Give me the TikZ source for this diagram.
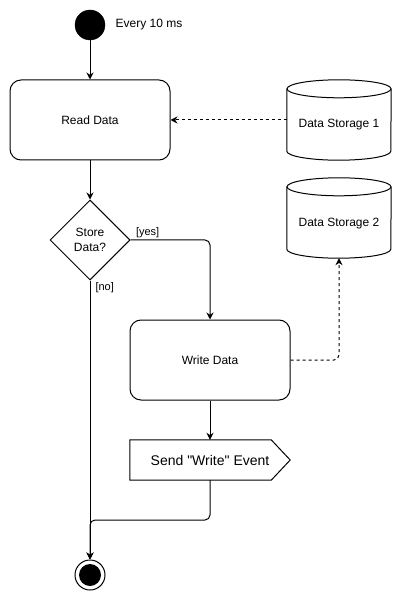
\documentclass[tikz,border=0pt]{standalone}
\usepackage{fontspec}
\setmainfont{Liberation Sans}
\usetikzlibrary{shapes.geometric,arrows.meta,positioning}

\tikzset{
    flowline/.style={line width=1pt, black},
    flowarrow/.style={flowline, -{Stealth[length=7pt,width=7pt]}},
    storeline/.style={flowarrow, dashed},
    plaintext/.style={font=\fontsize{12}{14}\selectfont},
    edgelabel/.style={font=\fontsize{11}{13}\selectfont, inner sep=2pt},
    startdot/.style={circle, draw, fill=black, minimum size=30, inner sep=0},
    enddot/.style={circle, draw, flowline, minimum size=30, inner sep=0,
        path picture={\fill (path picture bounding box.center) circle (11pt);}},
    actionbox/.style={draw, flowline, rounded corners=11pt, minimum width=160,
        minimum height=80, inner sep=0, plaintext},
    decisionbox/.style={draw, flowline, diamond, aspect=1, minimum width=80,
        minimum height=80, inner sep=0, align=center,
        font=\fontsize{12}{15}\selectfont},
    eventbox/.style={minimum width=160, minimum height=40, inner sep=0,
        font=\fontsize{14}{16}\selectfont},
    storebox/.style={minimum width=104, minimum height=80, inner sep=0,
        text height=16pt, text depth=0pt, plaintext}
}

\newcommand{\dataStore}[4]
{
    \node[storebox] (#1) at (#2,#3) {#4};
    \draw[flowline] ([yshift=-9pt]#1.north) ellipse [x radius=52pt, y radius=9pt];
    \draw[flowline] ([yshift=-9pt]#1.north west) -- ([yshift=9pt]#1.south west)
        arc [start angle=180, end angle=360, x radius=52pt, y radius=9pt]
        -- ([yshift=-9pt]#1.north east);
}

\begin{document}
\begin{tikzpicture}[x=1pt, y=-1pt]
    \useasboundingbox (0,0) rectangle (403,601);

    %draws start and end states
    \node[startdot] (start) at (90,25) {};
    \node[plaintext, right=7pt of start] (every) {Every 10 ms};
    \node[enddot] (finish) at (90,575) {};

    %draws actions
    \node[actionbox] (readdata) at (90,120) {Read Data};
    \node[decisionbox] (decide) at (90,240) {Store\\Data?};
    \node[actionbox] (writedata) at (210,360) {Write Data};
    \node[eventbox] (sendevent) at (210,460)
        {Send \textquotedbl Write\textquotedbl\ Event};
    \draw[flowline] (sendevent.north west) -- ([xshift=-19pt]sendevent.north east)
        -- (sendevent.east) -- ([xshift=-19pt]sendevent.south east)
        -- (sendevent.south west) -- cycle;

    %draws storages
    \dataStore{storeone}{339}{120}{Data Storage 1}
    \dataStore{storetwo}{339}{218}{Data Storage 2}

    %draws flow
    \draw[flowarrow] (start) -- (readdata);
    \draw[storeline] (storeone.west) -- (readdata.east);
    \draw[flowarrow] (readdata) -- (decide);
    \draw[flowarrow, rounded corners=5pt] (decide.east)
        node[edgelabel, anchor=south west, xshift=3pt] {[yes]} -| (writedata.north);
    \draw[flowarrow] (decide.south)
        node[edgelabel, anchor=north west, xshift=3pt] {[no]} -- (finish.north);
    \draw[storeline, rounded corners=5pt] (writedata.east) -| (storetwo.south);
    \draw[flowarrow] (writedata) -- (sendevent);
    \coordinate (joinpt) at (90,520);
    \draw[flowarrow, rounded corners=5pt] (sendevent.south) |- (joinpt) -- (finish.north);
\end{tikzpicture}
\end{document}
